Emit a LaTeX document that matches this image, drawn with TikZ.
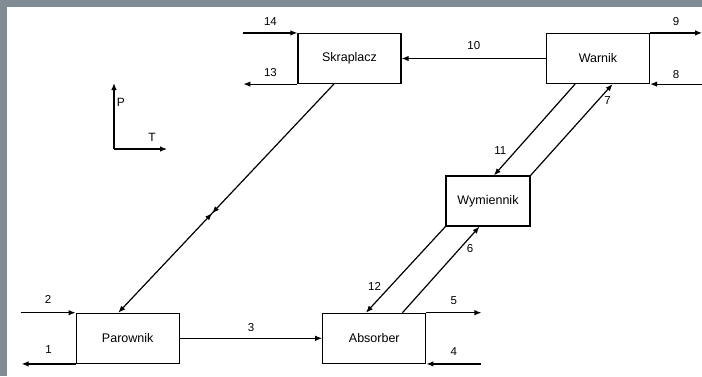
\documentclass[tikz,border=0pt]{standalone}
\usepackage{fontspec}
\setmainfont{Liberation Sans}
\usetikzlibrary{arrows.meta,calc,decorations.markings}
\definecolor{ramka}{RGB}{128,139,148}

\begin{document}
\begin{tikzpicture}[x=1pt, y=-1pt, line width=1.2pt,
  blok/.style={draw, minimum width=103pt, minimum height=50pt, inner sep=0pt,
    font=\fontsize{12.5}{15}\selectfont},
  strumien/.style={-{Latex[length=7pt,width=5.5pt]}},
  nr/.style={font=\fontsize{11.5}{14}\selectfont, inner sep=1pt}]
  % tlo i szara ramka
  \useasboundingbox (0,0) rectangle (702,376);
  \fill[ramka] (0,0) rectangle (702,7);
  \fill[ramka] (0,0) rectangle (7,376);
  % aparaty
  \node[blok] (skr) at (349.5,58.5) {Skraplacz};
  \node[blok] (war) at (598,58.5) {Warnik};
  \node[blok, minimum width=84pt] (wym) at (488,201) {Wymiennik};
  \node[blok] (par) at (127.7,338.3) {Parownik};
  \node[blok] (abs) at (374.3,338.3) {Absorber};
  % wolne konce strumieni
  \coordinate (k14) at ($(skr.north west)+(-54,0)$);
  \coordinate (k13) at ($(skr.south west)+(-54,0)$);
  \coordinate (k9) at ($(war.north east)+(52,0)$);
  \coordinate (k8) at ($(war.south east)+(52,0)$);
  \coordinate (k2) at ($(par.north west)+(-55,0)$);
  \coordinate (k1) at ($(par.south west)+(-54,0)$);
  \coordinate (k5) at ($(abs.north east)+(55,0)$);
  \coordinate (k4) at ($(abs.south east)+(55,0)$);
  % strumienie poziome
  \draw[strumien] (k14) -- (skr.north west) node[nr, midway, above=6pt] {14};
  \draw[strumien] (skr.south west) -- (k13) node[nr, midway, above=6pt] {13};
  \draw[strumien] (war.west) -- (skr.east) node[nr, midway, above=7pt] {10};
  \draw[strumien] (war.north east) -- (k9) node[nr, midway, above=6pt] {9};
  \draw[strumien] (k8) -- (war.south east) node[nr, midway, above=4pt] {8};
  \draw[strumien] (k2) -- (par.north west) node[nr, midway, above=8pt] {2};
  \draw[strumien] (par.south west) -- (k1) node[nr, midway, above=9pt] {1};
  \draw[strumien] (par.east) -- (abs.west) node[nr, midway, above=5pt] {3};
  \draw[strumien] (abs.north east) -- (k5) node[nr, midway, above=6pt] {5};
  \draw[strumien] (k4) -- (abs.south east) node[nr, midway, above=7pt] {4};
  % strumienie ukosne
  \draw[strumien, postaction={decorate}, decoration={markings,
      mark=at position 0.565 with {\arrow{Latex[length=7pt,width=5.5pt]}
        \arrowreversed{Latex[length=7pt,width=5.5pt]}}}]
    ($(skr.south west)!0.35!(skr.south east)$) -- ($(par.north west)!0.41!(par.north east)$);
  \draw[strumien] ($(war.south west)!0.28!(war.south east)$)
    -- ($(wym.north west)!0.57!(wym.north east)$) node[nr, pos=0.73, left=8pt] {11};
  \draw[strumien] (wym.north east)
    -- ($(war.south west)!0.64!(war.south east)$) node[nr, pos=0.82, right=5pt] {7};
  \draw[strumien] (wym.south west)
    -- ($(abs.north west)!0.42!(abs.north east)$) node[nr, pos=0.69, left=8pt] {12};
  \draw[strumien] ($(abs.north west)!0.77!(abs.north east)$)
    -- ($(wym.south west)!0.40!(wym.south east)$) node[nr, pos=0.75, right=5pt] {6};
  % osie P i T
  \coordinate (o) at (114,149);
  \coordinate (osP) at (114,83);
  \coordinate (osT) at (167,149);
  \draw[strumien] (o) -- (osP);
  \draw[strumien] (o) -- (osT);
  \node[nr, font=\fontsize{12}{14}\selectfont] (lP) at (121,102) {P};
  \node[nr, font=\fontsize{12}{14}\selectfont] (lT) at (152,137) {T};
\end{tikzpicture}
\end{document}
